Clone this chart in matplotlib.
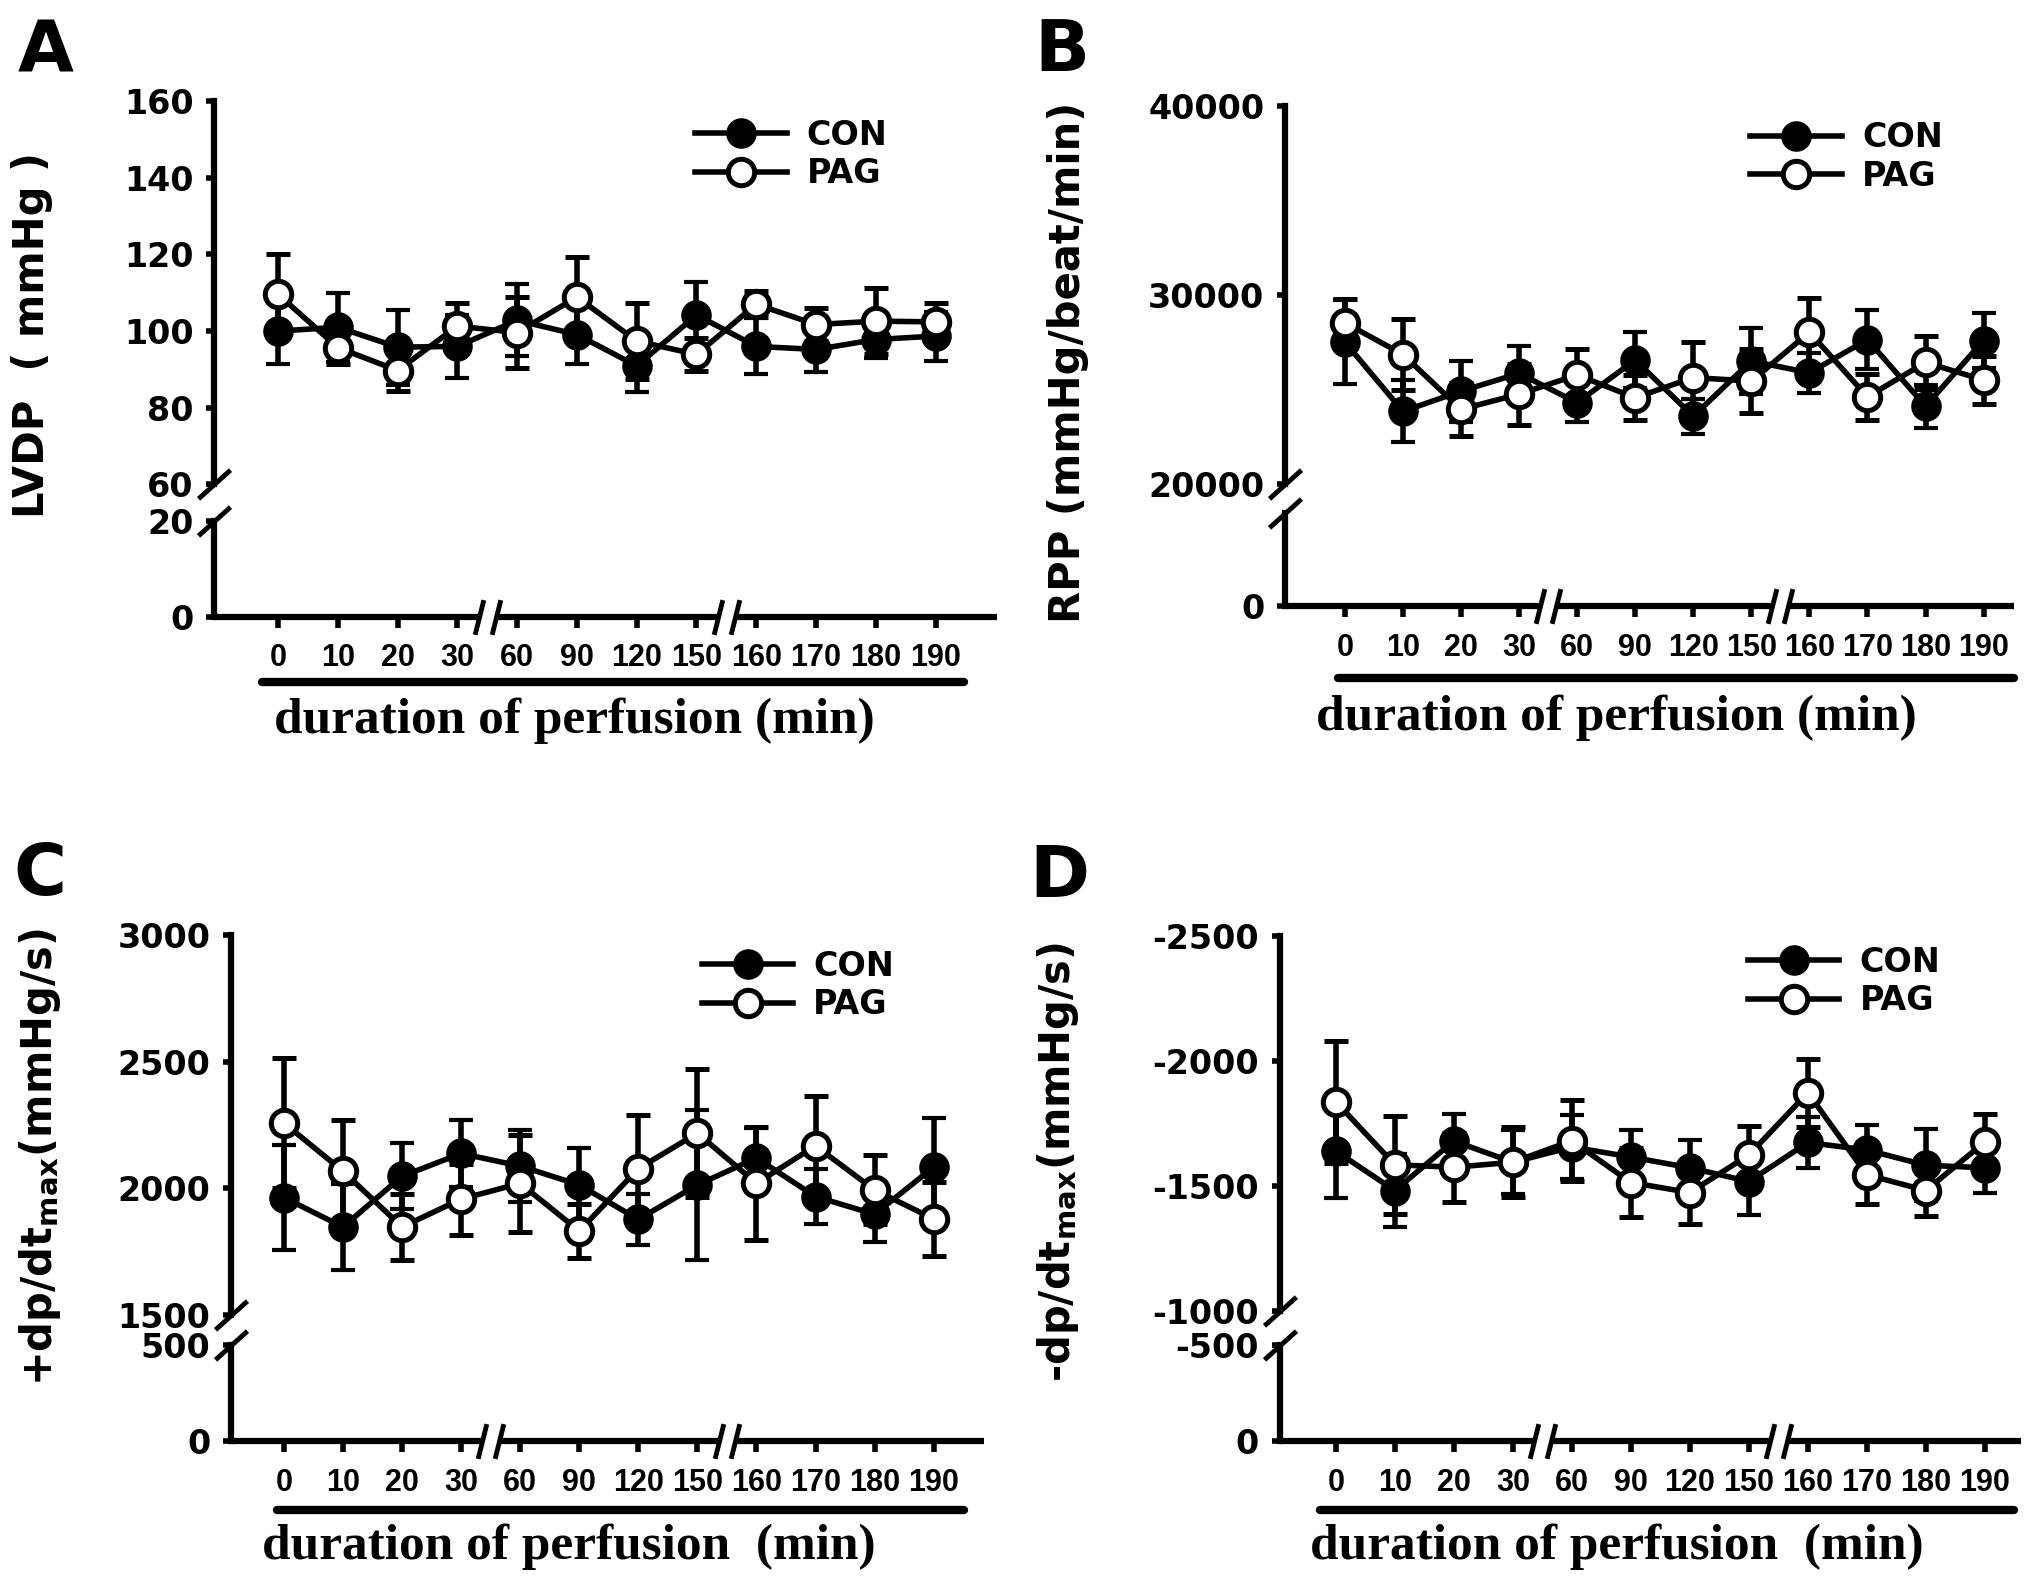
import matplotlib
matplotlib.use("Agg")
import matplotlib.pyplot as plt
from matplotlib.lines import Line2D

# time points (min) shown on the category axis
times = ["0", "10", "20", "30", "60", "90", "120", "150", "160", "170", "180", "190"]

# A: LVDP (mmHg)
lvdp_con = [100, 101, 95.8, 96, 102.8, 99.1, 90.9, 104.2, 96, 95.2, 97.8, 98.7]
lvdp_con_err = [8.7, 9, 9.8, 8.2, 9.4, 7.8, 6.9, 8.7, 7.3, 5.8, 4.8, 6.4]
lvdp_pag = [109.6, 95.7, 89.7, 101.3, 99.6, 108.9, 97.4, 93.9, 107, 101.7, 102.6, 102.4]
lvdp_pag_err = [10.6, 4.2, 5.4, 6.1, 9.2, 10.5, 10, 4.3, 3.4, 4.2, 8.7, 5]

# B: RPP (mmHg/beat/min)
rpp_con = [27530, 23860, 24930, 25870, 24320, 26580, 23600, 26530, 25900, 27660, 24130, 27610]
rpp_con_err = [2200, 1640, 1610, 1450, 1020, 1480, 940, 1740, 1070, 1560, 1150, 1470]
rpp_pag = [28550, 26870, 23970, 24770, 25790, 24580, 25650, 25460, 28050, 24630, 26450, 25520]
rpp_pag_err = [1260, 1870, 1400, 1610, 1390, 1200, 1880, 1690, 1800, 1210, 1420, 1270]

# C: +dp/dt max (mmHg/s)
dpp_con = [1964, 1848, 2048, 2138, 2088, 2014, 1878, 2014, 2120, 1968, 1898, 2084]
dpp_con_err = [206, 171, 130, 132, 142, 144, 100, 295, 120, 110, 108, 195]
dpp_pag = [2258, 2068, 1848, 1958, 2020, 1832, 2078, 2218, 2020, 2168, 1994, 1880]
dpp_pag_err = [257, 200, 131, 140, 192, 105, 211, 251, 222, 197, 136, 147]

# D: -dp/dt max (mmHg/s)
dpm_con = [-1641, -1483, -1681, -1596, -1657, -1617, -1574, -1519, -1675, -1645, -1584, -1574]
dpm_con_err = [187, 146, 108, 127, 128, 109, 112, 132, 101, 101, 144, 99]
dpm_pag = [-1838, -1586, -1576, -1596, -1682, -1515, -1475, -1625, -1874, -1546, -1483, -1677]
dpm_pag_err = [243, 195, 138, 140, 162, 138, 124, 117, 136, 118, 100, 110]

plt.rcParams["font.family"] = ["DejaVu Sans"]
plt.rcParams["font.weight"] = "bold"
plt.rcParams["axes.unicode_minus"] = False
plt.rcParams["mathtext.fontset"] = "dejavusans"

# layout was measured on a 1563 x 1220 view of the reference
W, H = 1563.0, 1220.0


def fx(x):
    return x / W


def fy(y):
    return 1 - y / H


fig = plt.figure(figsize=(20.31, 15.84), dpi=100)

LW = 4.5
serif = ["Liberation Serif", "DejaVu Serif"]


def panel(lay, con, con_err, pag, pag_err, up_lim, up_ticks, lo_lim, lo_ticks,
          ylabel, letter, xlabel):
    t0, t11 = lay["ticks"]
    sp = (t11 - t0) / 11
    x0, x1 = lay["x"]
    xlim = ((x0 - t0) / sp, (x1 - t0) / sp)
    w = fx(x1) - fx(x0)
    up = fig.add_axes([fx(x0), fy(lay["up"][1]), w, fy(lay["up"][0]) - fy(lay["up"][1])])
    lo = fig.add_axes([fx(x0), fy(lay["lo"][1]), w, fy(lay["lo"][0]) - fy(lay["lo"][1])])
    x = list(range(len(times)))

    e1 = up.errorbar(x, con, yerr=con_err, fmt="-o", color="k", lw=4, ms=19,
                     mfc="k", mec="k", mew=3, elinewidth=4, capsize=8.5, capthick=4.5)
    e2 = up.errorbar(x, pag, yerr=pag_err, fmt="-o", color="k", lw=4, ms=19,
                     mfc="white", mec="k", mew=3.6, elinewidth=4, capsize=8.5, capthick=4.5)

    for ax, lim, ticks in ((up, up_lim, up_ticks), (lo, lo_lim, lo_ticks)):
        ax.set_xlim(*xlim)
        ax.set_ylim(*lim)
        ax.set_yticks(ticks)
        for s in ("top", "right", "bottom"):
            ax.spines[s].set_visible(False)
        ax.spines["left"].set_linewidth(LW)
        ax.tick_params(axis="y", direction="out", length=6, width=4, pad=9, labelsize=24)
        ax.patch.set_visible(False)
    up.set_xticks([])
    lo.set_xticks(x)
    lo.set_xticklabels(times, family=["Liberation Sans", "DejaVu Sans"],
                       fontsize=22, fontweight="bold")
    lo.tick_params(axis="x", direction="out", length=8, width=4, pad=11)

    # broken x axis line
    g = 0.14
    ybase = lo_lim[0]
    segs = [(xlim[0], 3.5 - g), (3.5 + g, 7.5 - g), (7.5 + g, xlim[1])]
    for a, b in segs:
        lo.plot([a, b], [ybase, ybase], color="k", lw=LW, clip_on=False,
                solid_capstyle="butt")
    steep = dict(marker=[(-0.25, -1), (0.25, 1)], ms=25, mew=3.5, color="k",
                 linestyle="none", clip_on=False)
    for b in (3.5, 7.5):
        lo.plot([b - g, b + g], [ybase, ybase], **steep)

    # broken y axis
    slash = dict(marker=[(-1, -0.9), (1, 0.9)], ms=23, mew=3.5, color="k",
                 linestyle="none", clip_on=False)
    up.plot([0], [0], transform=up.transAxes, **slash)
    lo.plot([0], [1], transform=lo.transAxes, **slash)

    up.legend([e1[0], e2[0]], ["CON", "PAG"], loc="center left",
              bbox_to_anchor=(fx(lay["leg"][0]), fy(lay["leg"][1])),
              bbox_transform=fig.transFigure, frameon=False, borderpad=0,
              borderaxespad=0, handlelength=2.75, handletextpad=0.6,
              labelspacing=0.17, prop={"size": 24, "weight": "bold"})

    u0, u1, uy = lay["under"]
    fig.add_artist(Line2D([fx(u0), fx(u1)], [fy(uy), fy(uy)], transform=fig.transFigure,
                          color="k", lw=6, solid_capstyle="round"))
    fig.text(fx(lay["xl"][0]), fy(lay["xl"][1]), xlabel, ha="center", va="center",
             family=serif, fontsize=37, fontweight="bold")
    fig.text(fx(lay["yl"][0]), fy(lay["yl"][1]), ylabel, ha="center", va="center",
             rotation=90, fontsize=30, fontweight="bold")
    fig.text(fx(lay["let"][0]), fy(lay["let"][1]), letter, ha="center", va="center",
             fontsize=52, fontweight="bold")


lay_a = dict(x=(165, 767), ticks=(214, 720), up=(78, 373), lo=(401, 475),
             leg=(535, 119), under=(202, 742, 525), xl=(442, 555), yl=(25, 258), let=(35, 40))
lay_b = dict(x=(989, 1550), ticks=(1035, 1526.5), up=(82, 373), lo=(395, 467),
             leg=(1347, 121), under=(1030, 1550, 522), xl=(1244, 553), yl=(822, 279), let=(817, 40))
lay_c = dict(x=(178, 757), ticks=(218.5, 718.5), up=(720, 1013), lo=(1036, 1110),
             leg=(540, 759), under=(213, 742, 1163), xl=(438, 1191), yl=(31, 891), let=(31, 674))
lay_d = dict(x=(985, 1555), ticks=(1028, 1527.5), up=(721, 1010), lo=(1036, 1110),
             leg=(1345, 756), under=(1016, 1550, 1163), xl=(1244, 1191), yl=(814, 895), let=(815, 676))

panel(lay_a, lvdp_con, lvdp_con_err, lvdp_pag, lvdp_pag_err,
      (60, 160), [60, 80, 100, 120, 140, 160], (0, 20), [0, 20],
      "LVDP  ( mmHg )", "A", "duration of perfusion (min)")
panel(lay_b, rpp_con, rpp_con_err, rpp_pag, rpp_pag_err,
      (20000, 40000), [20000, 30000, 40000], (0, 10000), [0],
      "RPP (mmHg/beat/min)", "B", "duration of perfusion (min)")
panel(lay_c, dpp_con, dpp_con_err, dpp_pag, dpp_pag_err,
      (1500, 3000), [1500, 2000, 2500, 3000], (0, 500), [0, 500],
      r"+dp/dt$_{\mathbf{max}}$(mmHg/s)", "C", "duration of perfusion  (min)")
panel(lay_d, dpm_con, dpm_con_err, dpm_pag, dpm_pag_err,
      (-1000, -2500), [-2500, -2000, -1500, -1000], (0, -500), [0, -500],
      r"-dp/dt$_{\mathbf{max}}$(mmHg/s)", "D", "duration of perfusion  (min)")

fig.savefig("out.png", dpi=100)
